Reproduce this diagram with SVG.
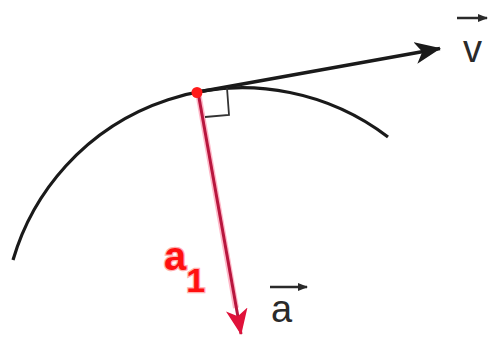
<svg xmlns="http://www.w3.org/2000/svg" width="488" height="337" viewBox="0 0 488 337">
<style>
.lbl{font-family:"Liberation Sans",Arial,sans-serif;fill:#2a2a2a}
.hand{font-family:"Liberation Sans",Arial,sans-serif;font-weight:bold;fill:#ff1010;stroke:#ffb0b0;stroke-width:2.5;paint-order:stroke}
</style>
<defs>
<marker id="hb" viewBox="0 0 26 22" refX="25" refY="11" markerWidth="26" markerHeight="22" markerUnits="userSpaceOnUse" orient="auto">
<path d="M0,0 L26,11 L0,22 L7,11 Z" fill="#1a1a1a"/>
</marker>
<marker id="hr" viewBox="0 0 26 22" refX="25" refY="11" markerWidth="26" markerHeight="22" markerUnits="userSpaceOnUse" orient="auto">
<path d="M0,0 L26,11 L0,22 L7,11 Z" fill="#e0123a"/>
</marker>
<marker id="hs" viewBox="0 0 10 10" refX="9" refY="5" markerWidth="10" markerHeight="10" markerUnits="userSpaceOnUse" orient="auto">
<path d="M0,1 L10,5 L0,9 Z" fill="#2a2a2a"/>
</marker>
</defs>
<g id="curve">
<path d="M13,260 A239.3,239.3 0 0 1 388,137" fill="none" stroke="#1a1a1a" stroke-width="3.2"/>
</g>
<g id="connectors">
<line x1="198" y1="92" x2="440" y2="48.5" stroke="#1a1a1a" stroke-width="3.5" marker-end="url(#hb)"/>
<line x1="198" y1="92" x2="236" y2="308" stroke="#ffb8c8" stroke-width="6"/>
<line x1="198" y1="92" x2="241" y2="334" stroke="#b8163e" stroke-width="3" marker-end="url(#hr)"/>
<polyline points="227,88 229,115 205,117" fill="none" stroke="#333" stroke-width="1.8"/>
</g>
<g id="point">
<circle cx="197" cy="92.5" r="5.5" fill="#ff1a1a"/>
</g>
<g id="label-v">
<line x1="457" y1="18" x2="487" y2="18" stroke="#2a2a2a" stroke-width="2.5" marker-end="url(#hs)"/>
<text class="lbl" x="463" y="62" font-size="38">v</text>
</g>
<g id="label-a">
<line x1="270" y1="287" x2="307" y2="287" stroke="#2a2a2a" stroke-width="2.5" marker-end="url(#hs)"/>
<text class="lbl" x="271" y="322" font-size="38">a</text>
</g>
<g id="label-a1">
<text class="hand" x="164" y="270" font-size="40">a<tspan font-size="34" dy="22">1</tspan></text>
</g>
</svg>
